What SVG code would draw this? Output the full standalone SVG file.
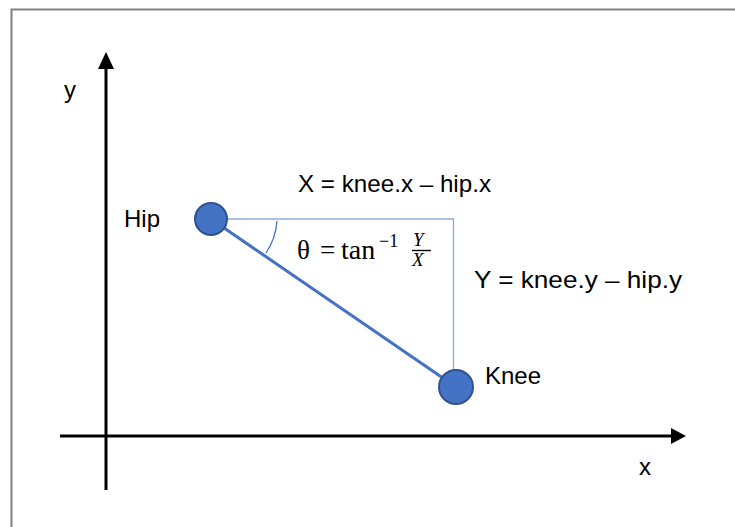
<svg xmlns="http://www.w3.org/2000/svg" width="735" height="527" viewBox="0 0 735 527">
<style>
.t{font-family:"Liberation Sans",Arial,sans-serif;font-size:24px;fill:#000}
.m{font-family:"Liberation Serif","DejaVu Serif",serif;fill:#000}
.node{fill:#4472C4;stroke:#2F528F;stroke-width:2}
.guide{stroke:#8FAADC;stroke-width:1.3;fill:none}
.axis{stroke:#000;stroke-width:3;fill:none}
</style>
<rect x="0" y="0" width="735" height="527" fill="#fff"/>
<rect x="11.5" y="9.5" width="740" height="540" fill="none" stroke="#808080" stroke-width="2"/>
<g id="connectors">
<line class="axis" x1="106" y1="490" x2="106" y2="68"/>
<path d="M106,52 L114,69 L98,69 Z" fill="#000"/>
<line class="axis" x1="60" y1="436" x2="672" y2="436"/>
<path d="M686,436 L671,428 L671,444 Z" fill="#000"/>
<polyline class="guide" points="211,219 453.5,219 453.5,372"/>
<line x1="211" y1="219" x2="456" y2="387" stroke="#4472C4" stroke-width="3"/>
<path d="M277,221 A66,66 0 0 1 266,253" fill="none" stroke="#4472C4" stroke-width="1.3"/>
</g>
<g id="hip">
<circle class="node" cx="211" cy="219" r="16"/>
<text class="t" x="124" y="227">Hip</text>
</g>
<g id="knee">
<circle class="node" cx="456" cy="387" r="17"/>
<text class="t" x="485" y="384">Knee</text>
</g>
<g id="labels">
<text class="t" x="64" y="98">y</text>
<text class="t" x="639" y="475">x</text>
<text class="t" x="298" y="192" textLength="193" lengthAdjust="spacingAndGlyphs">X = knee.x – hip.x</text>
<text class="t" x="474" y="288" textLength="208" lengthAdjust="spacingAndGlyphs">Y = knee.y – hip.y</text>
<text class="m" x="297" y="259" font-size="27">θ</text>
<text class="m" x="320" y="259" font-size="27">=</text>
<text class="m" x="341" y="259" font-size="28">tan</text>
<text class="m" x="379" y="247" font-size="18">−1</text>
<text class="m" x="413" y="246" font-size="19" font-style="italic">Y</text>
<line x1="412" y1="250.5" x2="431" y2="250.5" stroke="#000" stroke-width="1.4"/>
<text class="m" x="412" y="266" font-size="19" font-style="italic">X</text>
</g>
</svg>
